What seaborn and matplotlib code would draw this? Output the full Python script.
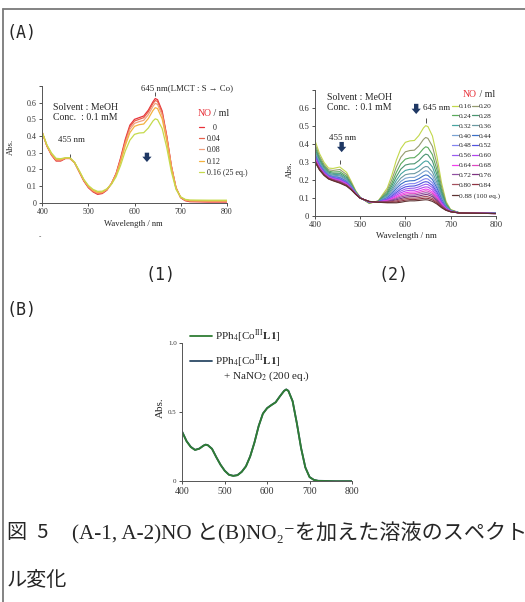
import matplotlib
matplotlib.use("Agg")
import matplotlib.pyplot as plt
import seaborn as sns
import pandas as pd
from matplotlib.lines import Line2D

# ---------------- data: panel (A-1) ----------------
wl_a1 = [400, 410, 420, 430, 440, 450, 460, 470, 480, 490, 500, 510, 520, 530, 540, 550,
         560, 570, 580, 590, 600, 610, 620, 630, 640, 645, 650, 660, 670, 680, 690, 700,
         710, 720, 760, 800]
no_a1 = ["0", "0.04", "0.08", "0.12", "0.16"]
labels_a1 = ["   0", "0.04", "0.08", "0.12", "0.16 (25 eq.)"]
colors_a1 = ["#e8323a", "#e8614c", "#f2a07c", "#f3b23f", "#c5da4c"]
a1_000 = [.420, .340, .285, .250, .250, .265, .265, .240, .185, .130, .090, .065, .050, .055, .075, .115,
          .175, .270, .380, .465, .500, .510, .520, .555, .605, .625, .618, .550, .400, .220, .090, .030,
          .012, .006, .004, .004]
a1_004 = [.420, .340, .288, .253, .253, .266, .266, .240, .187, .133, .093, .068, .054, .058, .077, .115,
          .172, .262, .370, .455, .490, .500, .510, .545, .595, .613, .607, .540, .395, .220, .090, .032,
          .014, .009, .007, .007]
a1_008 = [.420, .342, .290, .257, .256, .267, .267, .240, .188, .135, .096, .072, .058, .061, .079, .114,
          .168, .254, .356, .440, .476, .486, .494, .528, .578, .596, .590, .525, .385, .215, .088, .033,
          .016, .011, .009, .009]
a1_012 = [.420, .344, .293, .260, .260, .268, .268, .240, .190, .137, .099, .075, .062, .064, .081, .113,
          .164, .245, .342, .420, .458, .468, .472, .505, .553, .570, .565, .503, .370, .207, .086, .034,
          .018, .013, .011, .011]
a1_016 = [.420, .347, .298, .266, .264, .270, .270, .242, .193, .140, .103, .080, .068, .069, .083, .110,
          .155, .225, .310, .375, .410, .418, .420, .448, .490, .503, .498, .445, .330, .185, .080, .035,
          .020, .016, .015, .015]

# ---------------- data: panel (A-2) ----------------
wl_a2 = [400, 410, 420, 430, 440, 455, 470, 480, 490, 500, 520, 540, 560, 570, 580, 590,
         600, 610, 620, 630, 640, 645, 650, 660, 670, 680, 690, 700, 720, 800]
no_a2 = ["0.16", "0.20", "0.24", "0.28", "0.32", "0.36", "0.40", "0.44", "0.48", "0.52",
         "0.56", "0.60", "0.64", "0.68", "0.72", "0.76", "0.80", "0.84", "0.88"]
colors_a2 = ["#c2d84a", "#949a6e", "#5aaa5c", "#4a9470", "#48a4a0", "#6a98a0", "#7aa2d2",
             "#3a6ec6", "#8484f0", "#5252de", "#9a5cf0", "#b044ee", "#f040ee", "#dc48c2",
             "#9050a2", "#7e3280", "#a4505e", "#8e3242", "#5e3232"]
a2_016 = [.420, .347, .298, .266, .264, .272, .242, .193, .140, .103, .068, .083, .155, .225, .310, .375,
          .410, .418, .420, .448, .490, .503, .498, .445, .330, .185, .080, .035, .016, .015]
a2_020 = [.401, .332, .286, .256, .253, .258, .230, .185, .137, .102, .070, .082, .142, .201, .272, .327,
          .357, .364, .366, .390, .426, .437, .432, .387, .288, .163, .072, .033, .016, .015]
a2_024 = [.386, .321, .277, .249, .244, .246, .220, .179, .134, .102, .071, .081, .131, .181, .242, .290,
          .316, .323, .324, .345, .375, .385, .381, .341, .255, .145, .066, .031, .016, .014]
a2_028 = [.374, .312, .270, .243, .237, .237, .212, .175, .132, .101, .073, .080, .123, .166, .218, .260,
          .283, .289, .290, .308, .335, .344, .340, .305, .228, .131, .061, .030, .016, .014]
a2_032 = [.363, .303, .263, .237, .231, .229, .205, .170, .131, .101, .074, .079, .116, .152, .197, .233,
          .253, .259, .260, .276, .299, .306, .303, .272, .204, .119, .056, .029, .016, .014]
a2_036 = [.354, .296, .258, .232, .226, .223, .200, .167, .129, .100, .075, .079, .109, .141, .179, .210,
          .229, .234, .235, .248, .269, .275, .273, .244, .184, .108, .053, .028, .016, .013]
a2_040 = [.347, .291, .254, .229, .222, .217, .195, .164, .128, .100, .075, .078, .104, .132, .165, .192,
          .209, .214, .214, .227, .245, .251, .248, .222, .168, .100, .050, .027, .015, .013]
a2_044 = [.340, .286, .250, .225, .218, .212, .191, .161, .127, .100, .076, .078, .100, .123, .152, .176,
          .191, .195, .196, .207, .223, .228, .225, .202, .154, .092, .047, .026, .015, .013]
a2_048 = [.334, .281, .246, .222, .215, .208, .187, .159, .126, .099, .077, .077, .096, .116, .140, .161,
          .174, .179, .179, .189, .203, .207, .205, .184, .141, .085, .044, .026, .015, .013]
a2_052 = [.329, .278, .243, .220, .212, .204, .184, .157, .125, .099, .077, .077, .092, .109, .130, .149,
          .161, .165, .166, .174, .187, .190, .188, .169, .130, .079, .042, .025, .015, .013]
a2_056 = [.325, .274, .240, .218, .210, .201, .181, .155, .124, .099, .077, .077, .089, .104, .122, .138,
          .149, .153, .154, .161, .172, .176, .174, .157, .121, .074, .041, .025, .015, .013]
a2_060 = [.321, .271, .238, .216, .207, .198, .179, .153, .124, .099, .078, .076, .087, .099, .114, .128,
          .138, .142, .142, .149, .158, .161, .160, .144, .111, .070, .039, .024, .015, .012]
a2_064 = [.317, .268, .236, .214, .205, .195, .176, .152, .123, .099, .078, .076, .084, .094, .107, .119,
          .128, .132, .132, .138, .146, .149, .147, .133, .103, .065, .037, .024, .015, .012]
a2_068 = [.314, .266, .234, .212, .203, .193, .174, .151, .122, .099, .079, .076, .082, .090, .101, .111,
          .120, .123, .123, .129, .136, .139, .137, .124, .097, .062, .036, .024, .015, .012]
a2_072 = [.311, .264, .232, .211, .202, .191, .172, .150, .122, .098, .079, .076, .080, .087, .095, .104,
          .111, .115, .115, .120, .126, .128, .127, .115, .090, .058, .035, .023, .015, .012]
a2_076 = [.308, .261, .230, .209, .200, .188, .170, .148, .121, .098, .079, .076, .078, .083, .089, .096,
          .103, .106, .107, .110, .116, .118, .117, .106, .084, .055, .034, .023, .015, .012]
a2_080 = [.305, .259, .228, .208, .198, .186, .169, .147, .121, .098, .079, .075, .076, .079, .083, .089,
          .095, .098, .098, .101, .106, .108, .106, .096, .077, .051, .032, .023, .015, .012]
a2_084 = [.303, .257, .227, .206, .197, .184, .167, .146, .120, .098, .080, .075, .074, .075, .077, .082,
          .087, .090, .090, .093, .097, .098, .097, .088, .071, .048, .031, .022, .015, .012]
a2_088 = [.300, .255, .225, .205, .195, .182, .165, .145, .120, .098, .080, .075, .072, .072, .072, .075,
          .080, .083, .083, .085, .088, .089, .088, .080, .065, .045, .030, .022, .015, .012]

# ---------------- data: panel (B) ----------------
wl_b = [400, 410, 420, 430, 440, 450, 455, 460, 470, 480, 490, 500, 510, 520, 530, 540, 550,
        560, 570, 580, 590, 600, 610, 620, 630, 640, 645, 650, 660, 670, 680, 690, 700, 710,
        720, 760, 800]
b_l1 = [.355, .290, .248, .227, .236, .258, .265, .262, .235, .175, .120, .076, .047, .039, .044, .068,
        .108, .180, .280, .400, .490, .530, .552, .572, .615, .655, .665, .655, .580, .420, .240, .100,
        .030, .010, .003, .000, .000]
b_nano2 = [.358, .292, .250, .228, .237, .259, .266, .262, .236, .176, .121, .077, .048, .040, .045, .069,
           .109, .181, .281, .401, .491, .531, .553, .573, .616, .656, .666, .656, .581, .421, .241, .101,
           .031, .011, .004, .001, .001]
labels_b = ["PPh$_4$[Co$^{\\mathrm{III}}$$\\mathbf{L1}$]", "PPh$_4$[Co$^{\\mathrm{III}}$$\\mathbf{L1}$]"]
colors_b = ["#2f7d34", "#2c4a66"]


def to_long(wl, series, names):
    rows = []
    for name, vals in zip(names, series):
        for w, v in zip(wl, vals):
            rows.append({"wl": w, "absorb": v, "no": name})
    return pd.DataFrame(rows)


sns.set_style("ticks")
plt.rcParams["font.family"] = ["Liberation Serif", "DejaVu Sans"]
plt.rcParams["mathtext.fontset"] = "stix"
plt.rcParams["axes.linewidth"] = 0.7
plt.rcParams["axes.edgecolor"] = "#555555"

W, H = 525, 602
fig = plt.figure(figsize=(W / 100, H / 100), dpi=100)
fig.patch.set_facecolor("white")


def px_axes(x0, x1, y_top, y_bot):
    return fig.add_axes([x0 / W, 1 - y_bot / H, (x1 - x0) / W, (y_bot - y_top) / H])


def style_axes(ax, ymax, ystep, labelsize_x, labelsize_y, ylabels):
    sns.despine(ax=ax)
    ax.set_xlim(400, 800)
    ax.set_ylim(0, ymax)
    ax.set_xticks([400, 500, 600, 700, 800])
    ax.set_yticks(ystep)
    ax.set_yticklabels(ylabels)
    ax.tick_params(axis="both", direction="out", length=2.5, width=0.6, pad=1.5,
                   colors="#333333")
    ax.tick_params(axis="x", labelsize=labelsize_x)
    ax.tick_params(axis="y", labelsize=labelsize_y)
    ax.set_facecolor("none")


arrow_style = dict(arrowstyle="simple,head_length=0.55,head_width=0.95,tail_width=0.45",
                   color="#1f3864", lw=0, shrinkA=0, shrinkB=0, mutation_scale=7)

# ---------------- (A-1) ----------------
ax1 = px_axes(42.3, 226.7, 86, 202.7)
df1 = to_long(wl_a1, [a1_000, a1_004, a1_008, a1_012, a1_016], no_a1)
sns.lineplot(data=df1, x="wl", y="absorb", hue="no", hue_order=no_a1,
             palette=dict(zip(no_a1, colors_a1)), estimator=None, legend=False,
             linewidth=0.9, ax=ax1)
style_axes(ax1, 0.7, [0, .1, .2, .3, .4, .5, .6, .7], 5.8, 5.8,
           ["0", "0.1", "0.2", "0.3", "0.4", "0.5", "0.6", ""])
ax1.set_xlabel("Wavelength / nm", fontsize=6.2)
ax1.set_ylabel("Abs.", fontsize=6.2)
ax1.xaxis.set_label_coords(0.492, -0.148)
ax1.yaxis.set_label_coords(-0.148, 0.477)
ax1.text(423, 0.574, "Solvent : MeOH", fontsize=7, va="center")
ax1.text(423, 0.514, "Conc.  : 0.1 mM", fontsize=7, va="center")
ax1.text(434, 0.376, "455 nm", fontsize=6.3, va="center")
ax1.text(615, 0.686, "645 nm(LMCT : S \u2192 Co)", fontsize=6.3, va="center")
ax1.vlines([460, 644], [0.275, 0.64], [0.295, 0.665], color="#333333", lw=0.6)
ax1.annotate("", xy=(627, 0.244), xytext=(627, 0.300), arrowprops=arrow_style)
ax1.text(767, 0.538, "NO", color="#e8323a", fontsize=7, ha="right", va="center")
ax1.text(767, 0.538, " / ml", fontsize=7, ha="left", va="center")
h1 = [Line2D([], [], color=c, lw=0.9) for c in colors_a1]
ax1.legend(h1, labels_a1, loc="upper left", bbox_to_anchor=(199 / W, 1 - 123.5 / H),
           bbox_transform=fig.transFigure, frameon=False, fontsize=5.8, handlelength=0.65,
           handletextpad=0.35, labelspacing=0.42, borderpad=0, borderaxespad=0)
fig.text(40 / W, 1 - 236.7 / H, "-", fontsize=5, ha="center", va="center")

# ---------------- (A-2) ----------------
ax2 = px_axes(315, 495.7, 90.4, 215.7)
series_a2 = [a2_016, a2_020, a2_024, a2_028, a2_032, a2_036, a2_040, a2_044, a2_048, a2_052,
             a2_056, a2_060, a2_064, a2_068, a2_072, a2_076, a2_080, a2_084, a2_088]
df2 = to_long(wl_a2, series_a2, no_a2)
sns.lineplot(data=df2, x="wl", y="absorb", hue="no", hue_order=no_a2,
             palette=dict(zip(no_a2, colors_a2)), estimator=None, legend=False,
             linewidth=0.8, ax=ax2)
style_axes(ax2, 0.7, [0, .1, .2, .3, .4, .5, .6, .7], 6.2, 6.2,
           ["0", "0.1", "0.2", "0.3", "0.4", "0.5", "0.6", ""])
ax2.set_xlabel("Wavelength / nm", fontsize=6.4)
ax2.set_ylabel("Abs.", fontsize=6.4)
ax2.xaxis.set_label_coords(0.507, -0.128)
ax2.yaxis.set_label_coords(-0.115, 0.365)
ax2.text(427, 0.658, "Solvent : MeOH", fontsize=7, va="center")
ax2.text(427, 0.602, "Conc.  : 0.1 mM", fontsize=7, va="center")
ax2.text(460, 0.436, "455 nm", fontsize=6.5, ha="center", va="center")
ax2.text(639, 0.600, "645 nm", fontsize=6.5, va="center")
ax2.vlines([455, 645], [0.29, 0.52], [0.31, 0.545], color="#333333", lw=0.6)
ax2.annotate("", xy=(459, 0.355), xytext=(459, 0.412), arrowprops=arrow_style)
ax2.annotate("", xy=(624, 0.568), xytext=(624, 0.625), arrowprops=arrow_style)
ax2.text(758, 0.678, "NO", color="#e8323a", fontsize=7, ha="right", va="center")
ax2.text(758, 0.678, " / ml", fontsize=7, ha="left", va="center")
# two-column legend filled row by row, last entry on its own row
order = list(range(0, 18, 2)) + list(range(1, 18, 2))
h2 = [Line2D([], [], color=colors_a2[i], lw=0.9) for i in order]
lab2 = [no_a2[i] for i in order]
leg2 = ax2.legend(h2, lab2, ncol=2, loc="upper left", bbox_to_anchor=(452 / W, 1 - 103 / H),
                  bbox_transform=fig.transFigure, frameon=False, fontsize=5.3, handlelength=0.75,
                  handletextpad=0.15, labelspacing=0.5, columnspacing=0.05, borderpad=0,
                  borderaxespad=0)
ax2.add_artist(leg2)
ax2.legend([Line2D([], [], color=colors_a2[-1], lw=0.9)], [no_a2[-1] + " (100 eq.)"],
           loc="upper left", bbox_to_anchor=(452 / W, 1 - 192 / H),
           bbox_transform=fig.transFigure, frameon=False, fontsize=5.3, handlelength=0.75,
           handletextpad=0.15, borderpad=0, borderaxespad=0)

# ---------------- (B) ----------------
ax3 = px_axes(182.3, 352, 343.3, 481.3)
df3 = to_long(wl_b, [b_nano2, b_l1], ["nano2", "l1"])
sns.lineplot(data=df3, x="wl", y="absorb", hue="no", hue_order=["nano2", "l1"],
             palette={"l1": colors_b[0], "nano2": colors_b[1]}, estimator=None, legend=False,
             linewidth=1.3, ax=ax3)
style_axes(ax3, 1.0, [0, 0.5, 1.0], 7, 5, ["0", "0.5", "1.0"])
ax3.set_xlabel("")
ax3.set_ylabel("Abs.", fontsize=8)
ax3.yaxis.set_label_coords(-0.102, 0.531)
h3 = [Line2D([], [], color=c, lw=1.3) for c in colors_b]
ax3.legend(h3, labels_b, loc="upper left", bbox_to_anchor=(190 / W, 1 - 327.5 / H),
           bbox_transform=fig.transFigure, frameon=False, fontsize=8, handlelength=2.0,
           handletextpad=0.25, labelspacing=0.75, borderpad=0, borderaxespad=0)
fig.text(223 / W, 1 - 376 / H, "+ NaNO$_2$ (200 eq.)", fontsize=8, va="center")

# ---------------- panel labels and caption ----------------
mono = "DejaVu Sans Mono"
fig.text(7 / W, 1 - 33 / H, "(A)", fontsize=12, family=mono, va="center")
fig.text(160 / W, 1 - 275 / H, "(1)", fontsize=12, family=mono, ha="center", va="center")
fig.text(393 / W, 1 - 275 / H, "(2)", fontsize=12, family=mono, ha="center", va="center")
fig.text(7 / W, 1 - 310 / H, "(B)", fontsize=12, family=mono, va="center")

cjk = ["Noto Sans CJK JP", "DejaVu Sans"]
mixed = ["Liberation Serif", "Noto Sans CJK JP", "DejaVu Sans"]
fig.text(7 / W, 1 - 533 / H, "図\u20025", fontsize=14.5, family=cjk, va="center")
fig.text(72 / W, 1 - 533 / H, "(A-1, A-2)NO と(B)NO\u2082\u207bを加えた溶液のスペクト",
         fontsize=15.2, family=mixed, va="center")
fig.text(7 / W, 1 - 581 / H, "ル変化", fontsize=14.5, family=cjk, va="center")

# page frame (top and left edges)
fig.add_artist(Line2D([3 / W, 1], [1 - 9 / H, 1 - 9 / H], transform=fig.transFigure,
                      color="#7a7a7a", lw=1.3))
fig.add_artist(Line2D([3 / W, 3 / W], [0, 1 - 9 / H], transform=fig.transFigure,
                      color="#7a7a7a", lw=1.3))

fig.savefig("out.png", dpi=100, facecolor="white")
